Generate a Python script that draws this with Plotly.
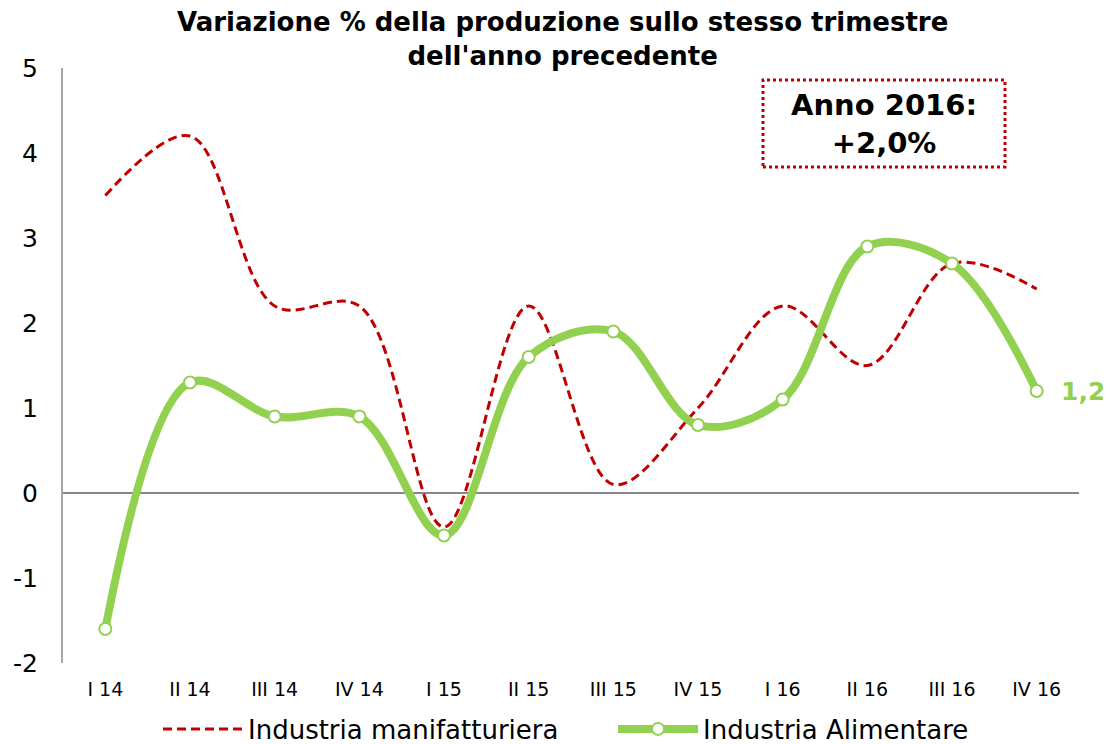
import plotly.graph_objects as go

categories = ["I 14", "II 14", "III 14", "IV 14", "I 15", "II 15", "III 15", "IV 15", "I 16", "II 16", "III 16", "IV 16"]
manifatturiera = [3.5, 4.2, 2.2, 2.2, -0.4, 2.2, 0.1, 1.0, 2.2, 1.5, 2.7, 2.4]
alimentare = [-1.6, 1.3, 0.9, 0.9, -0.5, 1.6, 1.9, 0.8, 1.1, 2.9, 2.7, 1.2]
y_ticks = [-2, -1, 0, 1, 2, 3, 4, 5]
y_ticktext = ["-2", "-1", "0", "1", "2", "3", "4", "5"]

FONT = "DejaVu Sans"
GREEN = "#92D050"
RED = "#C00000"

# page body has a default 8px margin: shrink the figure so it fills the window
OFF = 8
W, H = 1111 - OFF, 744 - OFF
# plot area in screen pixels
SL, ST, SR, SB = 63, 68, 1079, 663
PW, PH = SR - SL, SB - ST


def px_x(x):
    return (x - SL) / PW


def px_y(y):
    return (SB - y) / PH


fig = go.Figure()
fig.add_trace(go.Scatter(
    x=categories, y=manifatturiera, name="Industria manifatturiera" + "\u00a0" * 6,
    mode="lines", line=dict(color=RED, width=3, dash="9px,5px", shape="spline", smoothing=1.0),
))
fig.add_trace(go.Scatter(
    x=categories, y=alimentare, name="Industria Alimentare",
    mode="lines+markers", line=dict(color=GREEN, width=8, shape="spline", smoothing=1.0),
    marker=dict(size=12, color="white", line=dict(color=GREEN, width=2)),
))

fig.add_annotation(
    x=categories[-1], y=alimentare[-1], text="<b>1,2</b>", showarrow=False,
    xanchor="left", xshift=22, font=dict(family=FONT, size=25, color=GREEN),
)
fig.add_annotation(
    xref="paper", yref="paper", x=px_x(884), y=px_y(124),
    xanchor="center", yanchor="middle",
    text="<b>Anno 2016:<br>+2,0%</b>", showarrow=False,
    font=dict(family=FONT, size=29, color="black"), align="center",
)
fig.add_shape(
    type="rect", xref="paper", yref="paper",
    x0=px_x(763), x1=px_x(1005), y0=px_y(167), y1=px_y(80),
    line=dict(color=RED, width=3, dash="dot"),
)
fig.add_annotation(
    xref="paper", yref="paper", x=px_x(562), y=px_y(5),
    xanchor="center", yanchor="top", align="center", showarrow=False,
    text="<b>Variazione % della produzione sullo stesso trimestre<br>dell'anno precedente</b>",
    font=dict(family=FONT, size=26, color="black"),
)

fig.update_layout(
    width=W, height=H,
    paper_bgcolor="white", plot_bgcolor="white",
    margin=dict(l=SL - OFF, r=W - (SR - OFF), t=ST - OFF, b=H - (SB - OFF), autoexpand=False),
    font=dict(family=FONT, color="black"),
    showlegend=True,
    legend=dict(
        orientation="h", x=px_x(566), xanchor="center", y=px_y(729), yanchor="middle",
        font=dict(family=FONT, size=26, color="black"), itemwidth=80,
    ),
    xaxis=dict(
        type="category", range=[-0.5, 11.5], showgrid=False, showline=False,
        zeroline=False, ticks="", automargin=False, ticklabelstandoff=13,
        tickfont=dict(family=FONT, size=19, color="black"),
    ),
    yaxis=dict(
        range=[-2, 5], tickvals=y_ticks, ticktext=y_ticktext, showgrid=False,
        showline=True, linecolor="#A6A6A6", linewidth=2, automargin=False,
        zeroline=True, zerolinecolor="#868686", zerolinewidth=2,
        ticks="", tickfont=dict(family=FONT, size=25, color="black"), ticklabelstandoff=18,
    ),
)

fig.write_html("out.html")
